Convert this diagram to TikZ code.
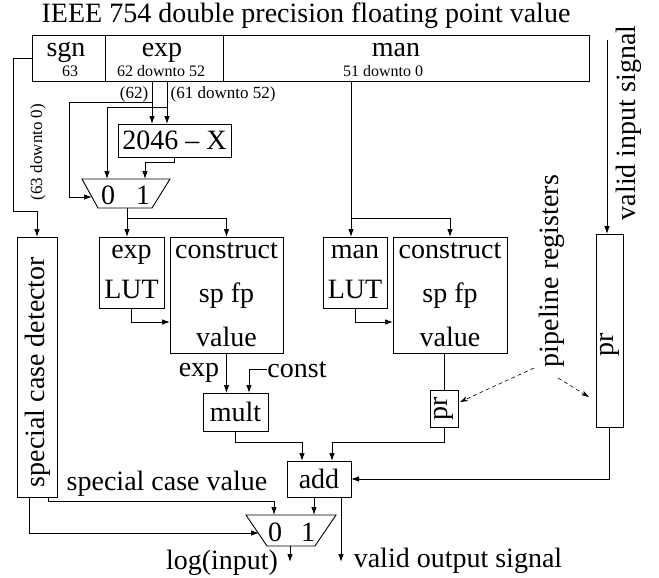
\documentclass[tikz,border=0pt]{standalone}
\usepackage{fontspec}
\setmainfont{Liberation Serif}
\usetikzlibrary{arrows.meta}
\newcommand\fBig{\fontsize{28}{44}\selectfont}
\newcommand\fLut{\fontsize{28}{40}\selectfont}
\newcommand\fSmall{\fontsize{16}{18}\selectfont}
\newcommand\fLab{\fontsize{17}{19}\selectfont}
\begin{document}
\begin{tikzpicture}[x=1pt,y=-1pt,line width=0.9pt,
  box/.style={draw,inner sep=0pt,outer sep=0pt,anchor=north west,align=center,font=\fBig},
  lutbox/.style={box,font=\fLut},
  txt/.style={inner sep=0pt,anchor=base,font=\fBig},
  arr/.style={-{Latex[length=8pt,width=5.5pt]}},
  darr/.style={-{Stealth[length=8pt,width=5pt]},dash pattern=on 4pt off 3pt,line width=0.6pt}]
\useasboundingbox (0,0) rectangle (659,578);
% title and input word
\node[txt] (title) at (306,23) {IEEE 754 double precision floating point value};
\node[box,minimum width=73,minimum height=46] (sgn) at (32,35) {};
\node[box,minimum width=118,minimum height=46] (exp) at (105,35) {};
\node[box,minimum width=366,minimum height=46] (man) at (223,35) {};
\node[txt] (tsgn) at (66,57) {sgn};
\node[txt,font=\fSmall] (bsgn) at (70,77) {63};
\node[txt] (texp) at (162,57) {exp};
\node[txt,font=\fSmall] (bexp) at (161,77) {62 downto 52};
\node[txt] (tman) at (396,57) {man};
\node[txt,font=\fSmall] (bman) at (383,77) {51 downto 0};
% labels of bit fields
\node[txt,font=\fLab] (l62) at (134,99) {(62)};
\node[txt,font=\fLab] (l61) at (223,99) {(61 downto 52)};
\node[txt,font=\fLab,rotate=90] (l63) at (42,152) {(63 downto 0)};
% blocks
\node[box,minimum width=113,minimum height=33] (sub) at (118,124) {2046 -- X};
\node[lutbox,minimum width=65,minimum height=71] (elut) at (99,237) {exp\\LUT};
\node[box,minimum width=113,minimum height=116] (c1) at (170,237) {construct\\sp fp\\value};
\node[lutbox,minimum width=64,minimum height=71] (mlut) at (323,237) {man\\LUT};
\node[box,minimum width=114,minimum height=116] (c2) at (393,237) {construct\\sp fp\\value};
\node[box,minimum width=65,minimum height=38] (mult) at (203,393) {mult};
\node[box,minimum width=64,minimum height=36] (add) at (287,461) {add};
\node[box,minimum width=28,minimum height=37] (prs) at (430,390) {};
\node[txt,anchor=center,rotate=90] (tprs) at (prs.center) {pr};
\node[box,minimum width=27,minimum height=193] (prb) at (596,234) {};
\node[txt,anchor=center,rotate=90] (tprb) at (610,345) {pr};
\node[box,minimum width=40,minimum height=260] (det) at (17,237) {};
\node[txt,rotate=90] (tdet) at (45,372) {special case detector};
% multiplexers
\draw (82,179) -- (170,179) -- (152,208) -- (98,208) -- cycle;
\node[txt] (m1z) at (108,204) {0};
\node[txt] (m1o1) at (143,204) {1};
\coordinate (m1a) at (107,179);
\coordinate (m1b) at (145,179);
\coordinate (m1s) at (92,197);
\coordinate (m1o) at (127,208);
\draw (246,515) -- (336,515) -- (315,546) -- (267,546) -- cycle;
\node[txt] (m2z) at (275,541) {0};
\node[txt] (m2o1) at (308,541) {1};
\coordinate (m2a) at (274,515);
\coordinate (m2b) at (314,515);
\coordinate (m2s) at (259,533);
\coordinate (m2o) at (290,546);
% other labels
\node[txt] (lexp) at (199,376) {exp};
\node[txt] (const) at (297,377) {const};
\node[txt] (lscv) at (167,490) {special case value};
\node[txt] (lout) at (222,569) {log(input)};
\node[txt] (lvout) at (458,567) {valid output signal};
\node[txt,rotate=90] (lvin) at (635,123) {valid input signal};
\node[txt,rotate=90] (lpipe) at (558,271) {pipeline registers};
% coordinates
\coordinate (e62) at (152,81);
\coordinate (e61) at (167,81);
\coordinate (mn) at (351,81);
\coordinate (vin) at (607,40);
\coordinate (addin1) at (302,461);
\coordinate (addin2) at (332,461);
\coordinate (vout) at (341,562);
% connectors
\draw[arr] (sgn.west) -- (13,58) -- (13,211) -| (det.north);
\draw[arr] (e62) -- (e62 |- sub.north);
\draw[arr] (e61) -- (e61 |- sub.north);
\draw[arr] (e62 |- 0,102) -- (69,102) -- (69,197) -- (m1s);
\draw[arr] (e61 |- 0,107) -| (m1a);
\draw[arr] (sub.south) -- ++(0,5) -| (m1b);
\draw[arr] (m1o) -- (m1o |- elut.north);
\draw[arr] (m1o |- 0,218) -| (c1.north);
\draw[arr] (elut.south) |- (c1.west |- 0,322);
\draw[arr] (c1.south) -- (c1.south |- mult.north);
\draw[arr] (const.west) -| (249,393);
\draw[arr] (mult.south) -- ++(0,11) -| (addin1);
\draw[arr] (mn) -- (mn |- mlut.north);
\draw[arr] (mn |- 0,218) -| (c2.north);
\draw[arr] (mlut.south) |- (c2.west |- 0,322);
\draw (prs.north |- c2.south) -- (prs.north);
\draw[arr] (prs.south) -- ++(0,15) -| (addin2);
\draw[arr] (vin) -- (vin |- prb.north);
\draw[arr] (prb.south) |- (add.east);
\draw[arr] (det.south -| 48,0) -- (48,501) -| (m2a);
\draw[arr] (det.south -| 29,0) |- (m2s);
\draw[arr] (add.south -| m2b) -- (m2b);
\draw[arr] (add.south -| vout) -- (vout);
\draw[arr] (m2o) -- ++(0,16);
\draw[darr] (534,368) -- (460,402);
\draw[darr] (558,378) -- (589,397);
\end{tikzpicture}
\end{document}
